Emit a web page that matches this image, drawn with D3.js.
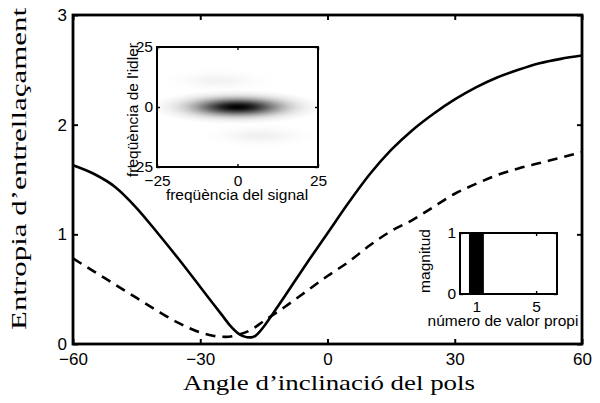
<!DOCTYPE html>
<html>

<head>
    <meta charset="utf-8">
    <title>entropia</title>
    <style type="text/css">
    body {
        margin: 0;
        background-color: #fff;
    }

    .tick text,
    .lbl {
        font-family: "Liberation Sans", Arial, sans-serif;
    }

    .title {
        font-family: "Liberation Serif", "DejaVu Serif", serif;
        font-size: 21px;
    }
    </style>
</head>

<body>
    <script src="https://cdn.jsdelivr.net/npm/d3@7"></script>
    <section id="chartArea"></section>
    <script>
    // angle (deg) and entanglement entropy
    var angles = [-60, -55, -50, -45, -40, -35, -30, -27, -25, -23, -21, -19, -18, -17, -15, -13, -10, -5, 0, 5, 10, 15, 20, 25, 30, 35, 40, 45, 50, 55, 60];
    var solid = [1.63, 1.55, 1.43, 1.24, 1.01, 0.77, 0.52, 0.37, 0.27, 0.17, 0.095, 0.062, 0.06, 0.075, 0.16, 0.27, 0.44, 0.73, 1.01, 1.29, 1.55, 1.77, 1.95, 2.10, 2.23, 2.34, 2.43, 2.50, 2.56, 2.60, 2.63];

    var dashAngles = [-60, -55, -50, -45, -40, -35, -30, -27, -24, -21, -18, -15, -10, -5, 0, 5, 10, 15, 20, 25, 30, 35, 40, 45, 50, 55, 60];
    var dashed = [0.78, 0.66, 0.54, 0.42, 0.30, 0.19, 0.105, 0.075, 0.065, 0.085, 0.13, 0.21, 0.34, 0.48, 0.62, 0.75, 0.90, 1.03, 1.13, 1.25, 1.37, 1.46, 1.54, 1.60, 1.65, 1.70, 1.75];

    var xTicks = [-60, -30, 0, 30, 60],
        xTickLabels = ['\u221260', '\u221230', '0', '30', '60'],
        yTicks = [0, 1, 2, 3];

    // inset: joint spectrum blobs (signal freq, idler freq, widths, strength)
    var blobSignal = [0, -6, 7],
        blobIdler = [0, 11, -12],
        blobWidthS = [9, 7, 7],
        blobWidthI = [2.4, 2, 2],
        blobStrength = [1, 0.05, 0.06];
    var specTicks = [-25, 0, 25],
        specTickLabels = ['\u221225', '0', '25'];

    // inset: eigenvalues
    var eigIndex = [1],
        eigValue = [1];

    var W = 600,
        H = 403;

    var svg = d3.select('#chartArea').append('svg')
        .attr('width', W)
        .attr('height', H);

    var xScale = d3.scaleLinear().domain([-60, 60]).range([73, 582]);
    var yScale = d3.scaleLinear().domain([0, 3]).range([344, 15]);

    var line = d3.line()
        .x(function(d) { return xScale(d[0]); })
        .y(function(d) { return yScale(d[1]); })
        .curve(d3.curveMonotoneX);

    var plot = svg.append('g');

    plot.append('path')
        .datum(d3.zip(angles, solid))
        .attr('d', line)
        .attr('fill', 'none')
        .attr('stroke', '#000')
        .attr('stroke-width', 2.6);

    plot.append('path')
        .datum(d3.zip(dashAngles, dashed))
        .attr('d', line)
        .attr('fill', 'none')
        .attr('stroke', '#000')
        .attr('stroke-width', 2.6)
        .attr('stroke-dasharray', '10,7');

    // box with ticks inside, mirrored on all sides
    function frame(g, xs, ys, xt, xl, yt, yl, tl, fs, sw, gapX, gapY) {
        var x0 = xs.range()[0], x1 = xs.range()[1],
            y0 = ys.range()[0], y1 = ys.range()[1];
        g.append('g')
            .attr('transform', 'translate(0,' + y0 + ')')
            .call(d3.axisBottom(xs).tickValues(xt).tickSize(-tl).tickFormat(function(d, i) { return xl[i]; }))
            .call(function(a) {
                a.select('.domain').remove();
                a.selectAll('text').attr('y', gapX).attr('font-size', fs).attr('fill', '#000');
            });
        g.append('g')
            .attr('transform', 'translate(0,' + y1 + ')')
            .call(d3.axisTop(xs).tickValues(xt).tickSize(-tl).tickFormat(''))
            .call(function(a) { a.select('.domain').remove(); });
        g.append('g')
            .attr('transform', 'translate(' + x0 + ',0)')
            .call(d3.axisLeft(ys).tickValues(yt).tickSize(-tl).tickFormat(function(d, i) { return yl[i]; }))
            .call(function(a) {
                a.select('.domain').remove();
                a.selectAll('text').attr('x', -gapY).attr('font-size', fs).attr('fill', '#000');
            });
        g.append('g')
            .attr('transform', 'translate(' + x1 + ',0)')
            .call(d3.axisRight(ys).tickValues(yt).tickSize(-tl).tickFormat(''))
            .call(function(a) { a.select('.domain').remove(); });
        g.selectAll('.tick line').attr('stroke', '#000').attr('stroke-width', sw * 0.7);
        g.append('rect')
            .attr('x', x0).attr('y', y1)
            .attr('width', x1 - x0).attr('height', y0 - y1)
            .attr('fill', 'none')
            .attr('stroke', '#000')
            .attr('stroke-width', sw);
    }

    frame(svg.append('g'), xScale, yScale, xTicks, xTickLabels, yTicks, yTicks.map(String), 5, 17, 2.8, 9, 6);

    svg.append('text')
        .attr('class', 'title')
        .attr('x', 329).attr('y', 390)
        .attr('text-anchor', 'middle')
        .attr('textLength', 292).attr('lengthAdjust', 'spacingAndGlyphs')
        .text('Angle d\u2019inclinació del pols');

    svg.append('text')
        .attr('class', 'title')
        .attr('transform', 'translate(26,169) rotate(-90)')
        .attr('text-anchor', 'middle')
        .attr('textLength', 322).attr('lengthAdjust', 'spacingAndGlyphs')
        .text('Entropia d\u2019entrellaçament');

    // ---- inset 1: joint spectral amplitude ----
    var sx = d3.scaleLinear().domain([-25, 25]).range([157, 318]);
    var sy = d3.scaleLinear().domain([-25, 25]).range([167, 47]);

    var defs = svg.append('defs');
    var grad = defs.append('radialGradient').attr('id', 'gauss');
    d3.range(0, 11).forEach(function(k) {
        var t = k / 10;
        grad.append('stop')
            .attr('offset', t)
            .attr('stop-color', '#000')
            .attr('stop-opacity', k === 10 ? 0 : Math.exp(-(3 * t) * (3 * t) / 2));
    });
    defs.append('clipPath').attr('id', 'specClip')
        .append('rect')
        .attr('x', 157).attr('y', 47).attr('width', 161).attr('height', 120);

    var ins1 = svg.append('g');
    ins1.append('rect')
        .attr('x', 157).attr('y', 47).attr('width', 161).attr('height', 120)
        .attr('fill', '#fff');

    ins1.append('g').attr('clip-path', 'url(#specClip)')
        .selectAll('ellipse')
        .data(d3.range(blobSignal.length))
        .enter()
        .append('ellipse')
        .attr('cx', function(i) { return sx(blobSignal[i]); })
        .attr('cy', function(i) { return sy(blobIdler[i]); })
        .attr('rx', function(i) { return sx(3 * blobWidthS[i]) - sx(0); })
        .attr('ry', function(i) { return sy(0) - sy(3 * blobWidthI[i]); })
        .attr('fill', 'url(#gauss)')
        .attr('opacity', function(i) { return blobStrength[i]; });

    frame(ins1, sx, sy, specTicks, specTickLabels, specTicks, specTickLabels, 3, 15.5, 2, 8, 4);

    ins1.append('text')
        .attr('class', 'lbl')
        .attr('x', 237).attr('y', 200)
        .attr('text-anchor', 'middle')
        .attr('font-size', 15.5)
        .text('freqüència del signal');

    ins1.append('text')
        .attr('class', 'lbl')
        .attr('transform', 'translate(138,110) rotate(-90)')
        .attr('text-anchor', 'middle')
        .attr('font-size', 15.5)
        .text('freqüència de l\'idler');

    // ---- inset 2: eigenvalue magnitudes ----
    var ex = d3.scaleLinear().domain([-0.1, 6.4]).range([460, 557]);
    var ey = d3.scaleLinear().domain([0, 1]).range([294, 233]);

    var ins2 = svg.append('g');
    ins2.append('rect')
        .attr('x', 460).attr('y', 233).attr('width', 97).attr('height', 61)
        .attr('fill', '#fff');

    ins2.selectAll('.eig')
        .data(eigIndex)
        .enter()
        .append('rect')
        .attr('class', 'eig')
        .attr('x', function(d) { return ex(d - 0.5); })
        .attr('width', ex(1) - ex(0))
        .attr('y', function(d, i) { return ey(eigValue[i]); })
        .attr('height', function(d, i) { return ey(0) - ey(eigValue[i]); })
        .attr('fill', '#000');

    frame(ins2, ex, ey, [1, 5], ['1', '5'], [0, 1], ['0', '1'], 3, 15.5, 2, 7, 4);

    ins2.append('text')
        .attr('class', 'lbl')
        .attr('x', 503).attr('y', 326)
        .attr('text-anchor', 'middle')
        .attr('font-size', 15.5)
        .text('número de valor propi');

    ins2.append('text')
        .attr('class', 'lbl')
        .attr('transform', 'translate(430,261) rotate(-90)')
        .attr('text-anchor', 'middle')
        .attr('font-size', 15.5)
        .text('magnitud');
    </script>
</body>

</html>
